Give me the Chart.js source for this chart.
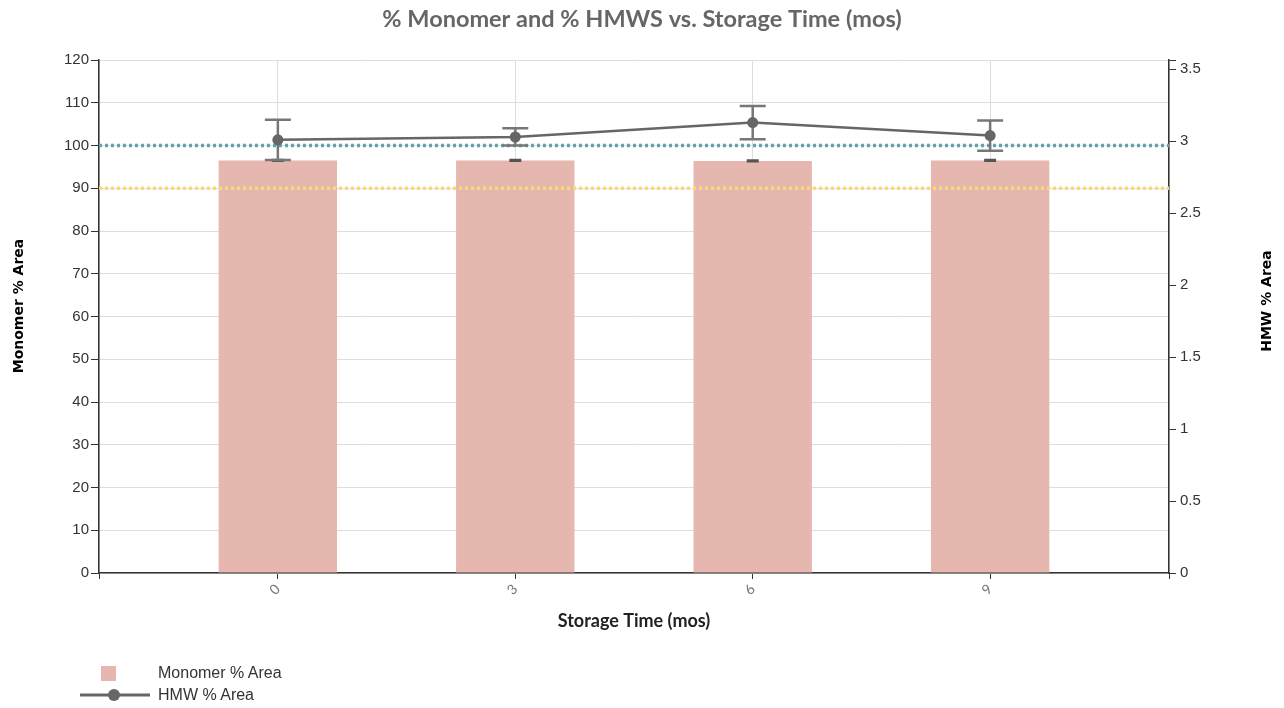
<!DOCTYPE html>
<html>
<head>
<meta charset="utf-8">
<title>% Monomer and % HMWS vs. Storage Time (mos)</title>
<script src="https://cdn.jsdelivr.net/npm/chart.js@4"></script>
<style>
  body { margin: 0; background: #fff; }
  #wrap { position: relative; width: 1284px; height: 708px; }
  #legend { position: absolute; left: 72px; top: 662px; font-family: "Liberation Sans", Arial, sans-serif; font-size: 16px; color: #333; }
  .item { display: flex; align-items: center; height: 22px; }
  .icon { width: 86px; display: flex; justify-content: center; align-items: center; }
  .swatch { width: 15px; height: 15px; background: #e6b7af; margin-left: -14px; }
</style>
</head>
<body>
<div id="wrap">
  <canvas id="chart" width="1284" height="708"></canvas>
  <div id="legend">
    <div class="item"><span class="icon"><span class="swatch"></span></span>Monomer % Area</div>
    <div class="item"><span class="icon"><svg width="72" height="14"><line x1="1" y1="7" x2="71" y2="7" stroke="#666" stroke-width="3"/><circle cx="35" cy="7" r="6" fill="#666"/></svg></span>HMW % Area</div>
  </div>
</div>
<script>
const categories = [0, 3, 6, 9];
const monomer = [96.5, 96.5, 96.4, 96.5];
const monomerErr = [0.15, 0.15, 0.15, 0.15];
const hmw = [3.01, 3.03, 3.13, 3.04];
const hmwErr = [0.14, 0.06, 0.115, 0.105];
const leftTicks = [0, 10, 20, 30, 40, 50, 60, 70, 80, 90, 100, 110, 120];
const rightTicks = [0, 0.5, 1, 1.5, 2, 2.5, 3, 3.5];
const refLines = [100, 90];   // on the Monomer axis
const refColors = ["#62a3ad", "#f9d877"];

const X_MIN = -2.26, X_MAX = 11.26, Y2_MAX = 3.565;

// dotted limits + error bars
const extrasPlugin = {
  id: "extras",
  afterDatasetDraw(chart, args) {
    if (args.meta.type !== "bar") return;
    const ctx = chart.ctx;
    const area = chart.chartArea;
    const x = chart.scales.x, y = chart.scales.y, y2 = chart.scales.y2;

    ctx.save();
    ctx.lineWidth = 3.5;
    ctx.setLineDash([3, 3]);
    refLines.forEach((v, i) => {
      const py = y.getPixelForValue(v);
      ctx.strokeStyle = refColors[i];
      ctx.beginPath();
      ctx.moveTo(area.left, py);
      ctx.lineTo(area.right, py);
      ctx.stroke();
    });
    ctx.setLineDash([]);

    function errBar(px, lo, hi, cap, color, width) {
      ctx.strokeStyle = color;
      ctx.lineWidth = width;
      ctx.beginPath();
      ctx.moveTo(px, lo); ctx.lineTo(px, hi);
      ctx.moveTo(px - cap, lo); ctx.lineTo(px + cap, lo);
      ctx.moveTo(px - cap, hi); ctx.lineTo(px + cap, hi);
      ctx.stroke();
    }
    categories.forEach((c, i) => {
      const px = x.getPixelForValue(c);
      errBar(px, y.getPixelForValue(monomer[i] - monomerErr[i]), y.getPixelForValue(monomer[i] + monomerErr[i]), 6, "#555", 2);
      errBar(px, y2.getPixelForValue(hmw[i] - hmwErr[i]), y2.getPixelForValue(hmw[i] + hmwErr[i]), 13, "#777", 2.5);
    });
    ctx.restore();
  },
  afterDraw(chart) {
    const ctx = chart.ctx;
    ctx.save();
    ctx.font = "bold 14px 'DejaVu Sans'";
    ctx.fillStyle = "#000";
    ctx.textAlign = "center";
    ctx.textBaseline = "middle";
    [["Monomer % Area", 19, 306], ["HMW % Area", 1267, 301]].forEach(t => {
      ctx.save();
      ctx.translate(t[1], t[2]);
      ctx.rotate(-Math.PI / 2);
      ctx.fillText(t[0], 0, 0);
      ctx.restore();
    });
    ctx.restore();
  }
};

const tickFont = { family: "'Liberation Sans', Arial", size: 15 };

new Chart(document.getElementById("chart"), {
  data: {
    datasets: [
      {
        type: "line",
        label: "HMW % Area",
        data: categories.map((c, i) => ({ x: c, y: hmw[i] })),
        yAxisID: "y2",
        borderColor: "#666",
        backgroundColor: "#666",
        borderWidth: 2.5,
        pointRadius: 5.5,
        pointBackgroundColor: "#666",
        pointBorderWidth: 0,
        tension: 0,
        order: 0
      },
      {
        type: "bar",
        label: "Monomer % Area",
        data: categories.map((c, i) => ({ x: c, y: monomer[i] })),
        yAxisID: "y",
        backgroundColor: "#e6b7af",
        barPercentage: 0.662,
        categoryPercentage: 1,
        order: 1
      }
    ]
  },
  options: {
    responsive: false,
    animation: false,
    layout: { padding: 0 },
    plugins: {
      legend: { display: false },
      tooltip: { enabled: false },
      title: {
        display: true,
        text: "% Monomer and % HMWS vs. Storage Time (mos)",
        color: "#666",
        font: { family: "Lato", size: 23.5, weight: "bold" },
        padding: { top: 5, bottom: 26.8 }
      }
    },
    scales: {
      x: {
        type: "linear",
        min: X_MIN,
        max: X_MAX,
        offset: false,
        afterBuildTicks: s => { s.ticks = [X_MIN].concat(categories, [X_MAX]).map(v => ({ value: v })); },
        afterFit: s => { s.height = 135; },
        grid: { offset: false, color: "#ddd", tickColor: "#333", tickLength: 6 },
        border: { color: "#333", width: 1.5 },
        ticks: {
          color: "#777",
          font: { family: "Lato", size: 14 },
          minRotation: 45,
          maxRotation: 45,
          padding: 2,
          callback: v => categories.includes(v) ? String(v) : ""
        },
        title: {
          display: true,
          text: "Storage Time (mos)",
          color: "#222",
          font: { family: "Lato", size: 18, weight: "bold" },
          padding: { top: 0, bottom: 76 }
        }
      },
      y: {
        position: "left",
        min: 0,
        max: 120,
        afterBuildTicks: s => { s.ticks = leftTicks.map(v => ({ value: v })); },
        afterFit: s => { s.width = 99; },
        grid: { color: "#ddd", tickColor: "#333", tickLength: 8 },
        border: { color: "#333", width: 1.5 },
        ticks: { color: "#333", font: tickFont, padding: 2 }
      },
      y2: {
        position: "right",
        min: 0,
        max: Y2_MAX,
        afterBuildTicks: s => { s.ticks = rightTicks.concat([Y2_MAX]).map(v => ({ value: v })); },
        afterFit: s => { s.width = 115; },
        grid: { drawOnChartArea: false, tickColor: "#333", tickLength: 7 },
        border: { color: "#333", width: 1.5 },
        ticks: {
          color: "#333",
          font: tickFont,
          padding: 4,
          callback: v => rightTicks.includes(v) ? String(v) : ""
        }
      }
    }
  },
  plugins: [extrasPlugin]
});
</script>
</body>
</html>
